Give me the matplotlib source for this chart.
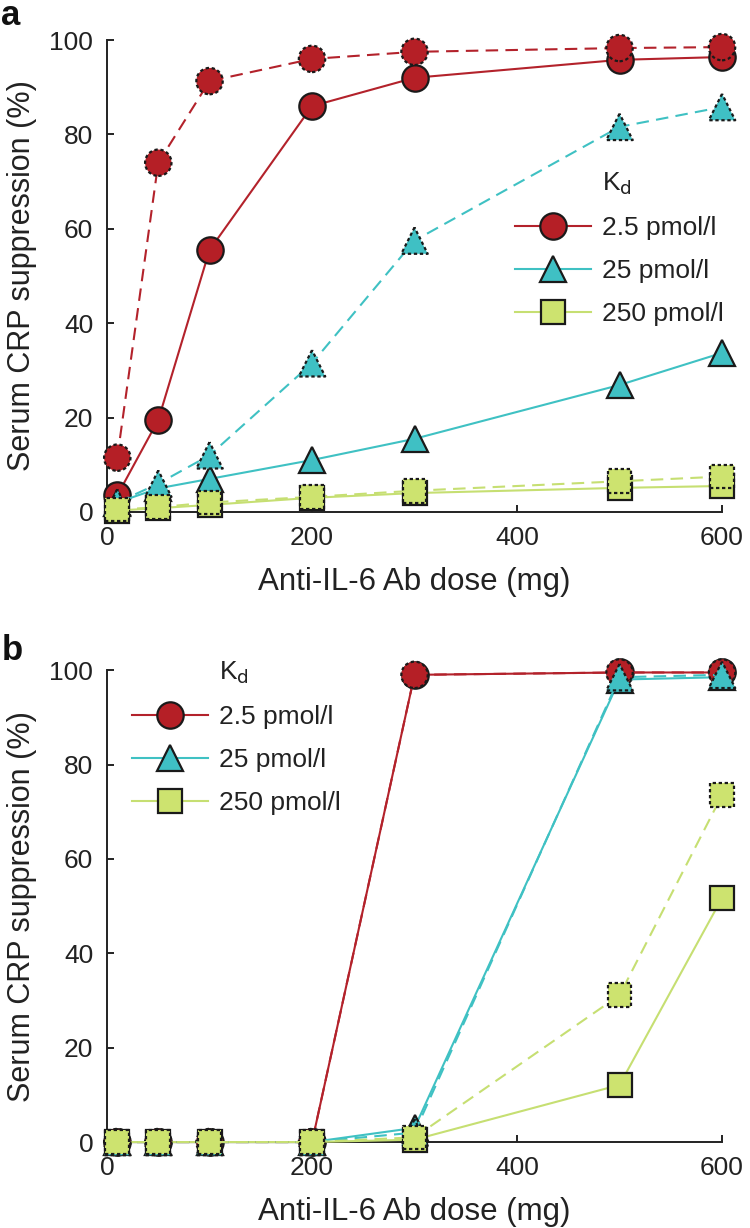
import matplotlib
matplotlib.use("Agg")
import matplotlib.pyplot as plt
from matplotlib.lines import Line2D

plt.rcParams["font.family"] = ["Liberation Sans", "DejaVu Sans"]

# doses (mg)
dose = [10, 50, 100, 200, 300, 500, 600]
kd_labels = ["2.5 pmol/l", "25 pmol/l", "250 pmol/l"]

# panel a: solid and dashed scenarios
a_red_solid = [3.5, 19.5, 55.5, 86, 92, 95.8, 96.4]
a_red_dash = [11.5, 74, 91.3, 96, 97.5, 98.3, 98.5]
a_cyan_solid = [2, 5, 7, 11, 15.5, 26.9, 33.7]
a_cyan_dash = [2, 6, 12, 31.5, 57.5, 81.6, 85.8]
a_green_solid = [0.3, 0.8, 1.5, 3, 4, 5.1, 5.5]
a_green_dash = [0.5, 1, 2, 3.2, 4.5, 6.5, 7.5]

# panel b
b_red_solid = [0, 0, 0, 0, 99, 99.5, 99.5]
b_red_dash = [0, 0, 0, 0, 99, 99.5, 99.5]
b_cyan_solid = [0, 0, 0, 0, 3, 98, 98.5]
b_cyan_dash = [0, 0, 0, 0, 2, 98.5, 99]
b_green_solid = [0, 0, 0, 0, 0.5, 12.1, 51.7]
b_green_dash = [0, 0, 0, 0, 1, 31.1, 73.5]

colors = ["#b3222b", "#3fc1c3", "#c6df72"]
fills = ["#b51f26", "#3fc0c4", "#cde36f"]
markers = ["o", "^", "s"]
msizes = [19, 19, 17]
ink = "#222222"

fig = plt.figure(figsize=(7.5, 12.28), dpi=100)
ax_a = fig.add_axes([0.1427, 0.5831, 0.82, 0.3843])
ax_b = fig.add_axes([0.1427, 0.0700, 0.82, 0.3843])


def draw_panel(ax, solids, dashes, legend_anchor):
    handles = []
    for i in range(3):
        h, = ax.plot(dose, solids[i], color=colors[i], lw=1.5,
                     marker=markers[i], ms=msizes[i], mfc=fills[i],
                     mec="#1a1a1a", mew=1.6, clip_on=False, zorder=3 + i)
        handles.append(h)
    for i in range(3):
        ax.plot(dose, dashes[i], color=colors[i], lw=1.5,
                ls=(0, (6, 3.5)), clip_on=False, zorder=6 + i)
        ax.scatter(dose, dashes[i], s=msizes[i] ** 2, marker=markers[i],
                   facecolor=fills[i], edgecolor="#1a1a1a", linewidths=1.6,
                   linestyle=(0, (1.5, 1.2)), clip_on=False, zorder=6 + i)

    ax.set_xlim(0, 600)
    ax.set_ylim(0, 100)
    ax.set_xticks([0, 200, 400, 600])
    ax.set_yticks([0, 20, 40, 60, 80, 100])
    for s in ["top", "right"]:
        ax.spines[s].set_visible(False)
    for s in ["left", "bottom"]:
        ax.spines[s].set_linewidth(1.4)
        ax.spines[s].set_color(ink)
    ax.tick_params(direction="in", length=5, width=1.4, colors=ink,
                   labelsize=19, labelcolor=ink)
    ax.tick_params(axis="y", pad=10)
    ax.tick_params(axis="x", pad=10)
    ax.set_xlabel("Anti-IL-6 Ab dose (mg)", fontsize=22.5, color=ink,
                  labelpad=12)
    ax.set_ylabel("Serum CRP suppression (%)", fontsize=22, color=ink,
                  labelpad=9)

    # title row uses an empty handle so K_d lines up with the labels
    blank = Line2D([], [], linestyle="none")
    leg = ax.legend(handles=[blank] + handles,
                    labels=["K$_\\mathrm{d}$"] + kd_labels, frameon=False,
                    loc="upper left", bbox_to_anchor=legend_anchor,
                    fontsize=19, handlelength=2.9, handletextpad=0.4,
                    labelspacing=0.72, borderaxespad=0)
    for t in leg.get_texts():
        t.set_color(ink)


draw_panel(ax_a, [a_red_solid, a_cyan_solid, a_green_solid],
           [a_red_dash, a_cyan_dash, a_green_dash], (0.646, 0.745))
draw_panel(ax_b, [b_red_solid, b_cyan_solid, b_green_solid],
           [b_red_dash, b_cyan_dash, b_green_dash], (0.023, 1.045))

fig.text(0.002, 0.9796, "a", fontsize=25, fontweight="bold",
         va="baseline", color="#111111")
fig.text(0.002, 0.4625, "b", fontsize=25, fontweight="bold",
         va="baseline", color="#111111")

fig.savefig("out.png", dpi=100)
